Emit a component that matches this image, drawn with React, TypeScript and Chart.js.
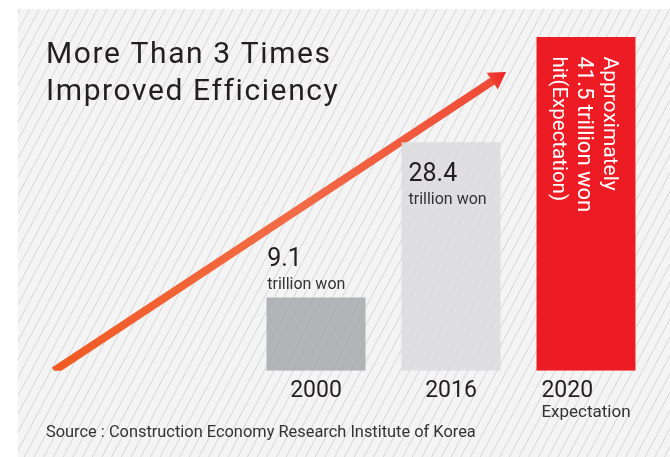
import React, { useEffect, useRef } from "react";
import { Chart, registerables } from "chart.js";

Chart.register(...registerables);

// ---------------- data ----------------
const years = ["2000", "2016", "2020"];
const yearNotes = ["", "", "Expectation"];
const values = [9.1, 28.4, 41.5];
const valueUnit = "trillion won";
const expectationLines = ["Approximately", `${values[2]} trillion won`, "hit(Expectation)"];
const titleLines = ["More Than 3 Times", "Improved Efficiency"];
const sourceText = "Source : Construction Economy Research Institute of Korea";
// trend arrow (in axis units: x = category index, y = trillion won)
const trendX = [-1.94, 1.315];
const trendY = [0, 36.1];

// ---------------- styles ----------------
const FONT = "Roboto, 'Noto Sans', sans-serif";
const barColors = ["rgba(168,169,174,0.86)", "rgba(219,219,222,0.86)", "#ed1c24"];
const darkText = "#231f20";

const decorPlugin = {
  id: "decor",
  beforeDraw(chart: any) {
    const { ctx, width, height } = chart;
    ctx.save();
    ctx.fillStyle = "#ffffff";
    ctx.fillRect(0, 0, width, height);
    const bx = 18;
    const by = 9;
    ctx.fillStyle = "#f4f4f4";
    ctx.fillRect(bx, by, width - bx, height - by);
    ctx.beginPath();
    ctx.rect(bx, by, width - bx, height - by);
    ctx.clip();
    ctx.strokeStyle = "#d6d6d6";
    ctx.lineWidth = 1;
    const spacing = 9.7;
    const run = (height - by) / Math.tan((62 * Math.PI) / 180);
    ctx.beginPath();
    for (let xt = 20 - Math.ceil((run + 40) / spacing) * spacing; xt - run < width + spacing; xt += spacing) {
      ctx.moveTo(xt - run, height);
      ctx.lineTo(xt, by);
    }
    ctx.stroke();
    ctx.restore();
  },
  afterDatasetDraw(chart: any, args: any) {
    if (args.index !== 1) return;
    const pts = args.meta.data;
    if (!pts || pts.length < 2) return;
    const a = pts[pts.length - 2];
    const b = pts[pts.length - 1];
    const ang = Math.atan2(b.y - a.y, b.x - a.x);
    const ctx = chart.ctx;
    ctx.save();
    ctx.translate(b.x, b.y);
    ctx.rotate(ang);
    const g = ctx.createLinearGradient(-2, 0, 15, 0);
    g.addColorStop(0, "#ef4332");
    g.addColorStop(1, "#ec1c24");
    ctx.fillStyle = g;
    ctx.beginPath();
    ctx.moveTo(15, 0);
    ctx.lineTo(-1.5, -10);
    ctx.lineTo(-1.5, 10);
    ctx.closePath();
    ctx.fill();
    ctx.restore();
  },
  afterDraw(chart: any) {
    const { ctx, chartArea: area } = chart;
    const xs = chart.scales.x;
    ctx.save();
    ctx.textBaseline = "alphabetic";

    // Title
    ctx.fillStyle = darkText;
    ctx.textAlign = "left";
    ctx.font = `30px ${FONT}`;
    (ctx as any).letterSpacing = "1.6px";
    titleLines.forEach((t, i) => ctx.fillText(t, area.left, area.top + 63.3 + i * 36.7));
    (ctx as any).letterSpacing = "0px";

    // Category labels
    const yearFont = `23px ${FONT}`;
    const noteFont = `17px ${FONT}`;
    years.forEach((y, i) => {
      const cx = xs.getPixelForValue(i);
      const note = yearNotes[i];
      ctx.fillStyle = darkText;
      if (note) {
        ctx.font = noteFont;
        const wn = ctx.measureText(note).width;
        ctx.font = yearFont;
        const wy = ctx.measureText(y).width;
        const left = cx - Math.max(wn, wy) / 2;
        ctx.textAlign = "left";
        ctx.fillText(y, left, area.bottom + 26.5);
        ctx.font = noteFont;
        ctx.fillStyle = "#333333";
        ctx.fillText(note, left, area.bottom + 46.2);
      } else {
        ctx.font = yearFont;
        ctx.textAlign = "center";
        ctx.fillText(y, cx, area.bottom + 26.5);
      }
    });

    // Value labels
    const bars = chart.getDatasetMeta(0).data;
    bars.forEach((bar: any, i: number) => {
      const left = bar.x - bar.width / 2;
      const right = bar.x + bar.width / 2;
      const h = bar.base - bar.y;
      ctx.textAlign = "left";
      if (i === bars.length - 1) {
        ctx.fillStyle = "#ffffff";
        const sizes = [21, 22, 20.5];
        const offs = [31, 57, 82];
        expectationLines.forEach((t, k) => {
          ctx.save();
          ctx.translate(right - offs[k], bar.y + 19.5);
          ctx.rotate(Math.PI / 2);
          ctx.font = `${sizes[k]}px ${FONT}`;
          ctx.fillText(t, 0, 0);
          ctx.restore();
        });
      } else if (h < 120) {
        ctx.fillStyle = darkText;
        ctx.font = `25px ${FONT}`;
        ctx.fillText(String(values[i]), left + 0.7, bar.y - 31.6);
        ctx.fillStyle = "#333333";
        ctx.font = `16px ${FONT}`;
        ctx.fillText(valueUnit, left + 0.7, bar.y - 9);
      } else {
        ctx.fillStyle = darkText;
        ctx.font = `25px ${FONT}`;
        ctx.fillText(String(values[i]), left + 7, bar.y + 39);
        ctx.fillStyle = "#333333";
        ctx.font = `16px ${FONT}`;
        ctx.fillText(valueUnit, left + 7, bar.y + 61.7);
      }
    });
    ctx.restore();
  },
};

export default function App() {
  const ref = useRef<HTMLCanvasElement>(null);
  useEffect(() => {
    document.body.style.margin = "0";
    const canvas = ref.current;
    if (!canvas) return;
    Chart.defaults.font.family = FONT;
    const trendColor = (c: any) => {
      const chart = c.chart;
      const xs = chart.scales?.x;
      const ys = chart.scales?.y;
      if (!xs || !ys || !chart.chartArea) return "#f15a22";
      const g = chart.ctx.createLinearGradient(
        xs.getPixelForValue(trendX[0]),
        ys.getPixelForValue(trendY[0]),
        xs.getPixelForValue(trendX[1]),
        ys.getPixelForValue(trendY[1])
      );
      g.addColorStop(0, "#f15a22");
      g.addColorStop(0.55, "#f26c47");
      g.addColorStop(1, "#ef4a36");
      return g;
    };
    const chart = new Chart(canvas, {
      type: "bar",
      data: {
        datasets: [
          {
            type: "bar",
            data: values.map((v, i) => ({ x: i, y: v })),
            backgroundColor: barColors,
            borderWidth: 0,
            barPercentage: 0.733,
            categoryPercentage: 1,
            order: 1,
          } as any,
          {
            type: "line",
            data: trendX.map((x, i) => ({ x, y: trendY[i] })),
            borderColor: trendColor,
            borderWidth: 8,
            borderCapStyle: "butt",
            pointRadius: 0,
            tension: 0,
            fill: false,
            clip: { left: 60, top: 60, right: 60, bottom: 0 },
            order: 2,
          } as any,
        ],
      },
      options: {
        animation: false,
        responsive: false,
        devicePixelRatio: 1,
        events: [],
        layout: { padding: { left: 46, right: 16.5, top: 0, bottom: 15.7 } },
        scales: {
          x: {
            type: "linear",
            min: -2,
            max: 2.5,
            offset: false,
            display: false,
            grid: { display: false },
            afterBuildTicks: (s: any) => {
              s.ticks = years.map((_, i) => ({ value: i }));
            },
          },
          y: {
            type: "linear",
            min: 0,
            max: 46.09,
            display: false,
            grid: { display: false },
          },
        },
        plugins: {
          legend: { display: false },
          tooltip: { enabled: false },
          title: {
            display: true,
            position: "bottom",
            align: "start",
            text: sourceText,
            color: "#333333",
            font: { family: FONT, size: 16.4, weight: "normal", lineHeight: 1 },
            padding: { top: 54.1, bottom: 0 },
          },
        },
      } as any,
      plugins: [decorPlugin],
    });
    return () => chart.destroy();
  }, []);
  return (
    <div style={{ width: 670, height: 457 }}>
      <canvas ref={ref} width={670} height={457} style={{ display: "block", width: 670, height: 457 }} />
    </div>
  );
}
